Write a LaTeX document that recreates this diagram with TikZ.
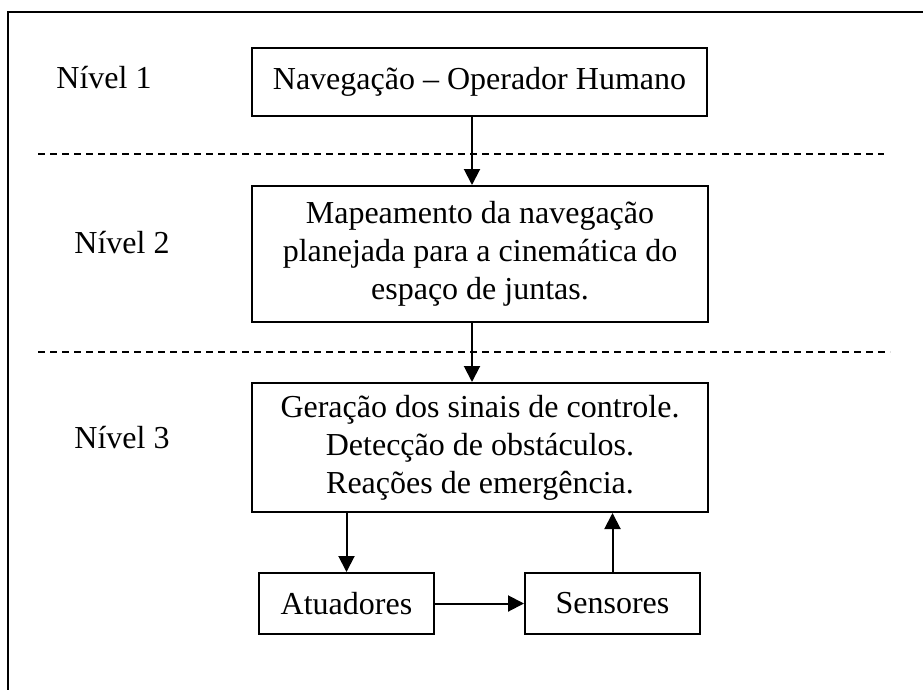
\documentclass[tikz,border=0pt]{standalone}
\usepackage{fontspec}
\setmainfont{Liberation Serif}
\usetikzlibrary{arrows.meta}
\tikzset{
  box/.style={draw, line width=2pt, align=center, inner sep=0pt, font=\fontsize{32}{38}\selectfont},
  lbl/.style={font=\fontsize{32}{38}\selectfont, inner sep=0pt},
  arr/.style={line width=2pt, -{Triangle[length=16pt,width=16pt]}},
  sep/.style={line width=1.5pt, dash pattern=on 7pt off 5pt},
  frame/.style={line width=2pt}
}
\begin{document}
\begin{tikzpicture}[x=1pt,y=-1pt]
\useasboundingbox (0,0) rectangle (923,690);
\draw[frame] (8,700) -- (8,12) -- (940,12);
\node[box, minimum width=455pt, minimum height=68pt] (n1) at (479.5,82) {Navegação – Operador Humano};
\node[box, minimum width=456pt, minimum height=136pt] (n2) at (480,254) {Mapeamento da navegação\\planejada para a cinemática do\\espaço de juntas.};
\node[box, minimum width=456pt, minimum height=129pt] (n3) at (480,447.5) {Geração dos sinais de controle.\\Detecção de obstáculos.\\Reações de emergência.};
\node[box, minimum width=175pt, minimum height=61pt] (a) at (346.5,603.5) {Atuadores};
\node[box, minimum width=175pt, minimum height=61pt] (s) at (612.5,603.5) {Sensores};
\node[lbl] (l1) at (104,78) {Nível 1};
\node[lbl] (l2) at (122,243) {Nível 2};
\node[lbl] (l3) at (122,438) {Nível 3};
\coordinate (d1a) at (38,154);
\coordinate (d1b) at (884,154);
\coordinate (d2a) at (38,352);
\coordinate (d2b) at (890,352);
\draw[sep] (d1a) -- (d1b);
\draw[sep] (d2a) -- (d2b);
\draw[arr] (n1.south -| 472,0) -- (n2.north -| 472,0);
\draw[arr] (n2.south -| 472,0) -- (n3.north -| 472,0);
\draw[arr] (n3.south -| a.north) -- (a.north);
\draw[arr] (s.north) -- (n3.south -| s.north);
\draw[arr] (a.east) -- (s.west);
\end{tikzpicture}
\end{document}
